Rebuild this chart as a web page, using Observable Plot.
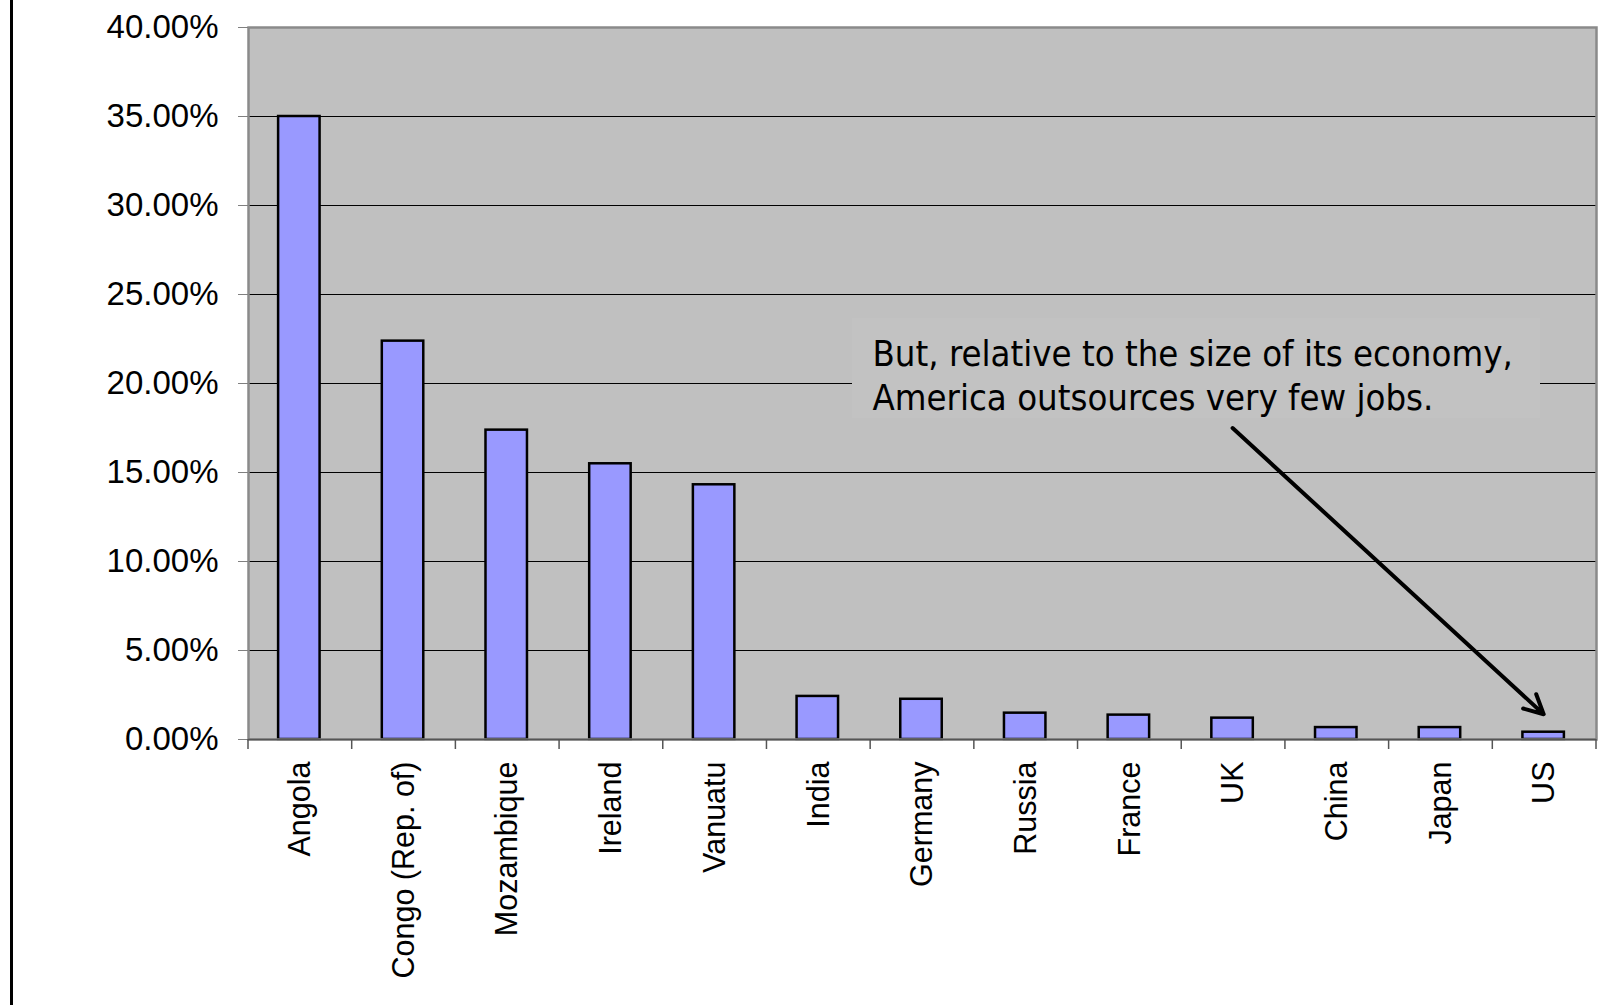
<!DOCTYPE html>
<html>
<head>
<meta charset="utf-8">
<script src="https://cdn.jsdelivr.net/npm/d3@7"></script>
<script src="https://cdn.jsdelivr.net/npm/@observablehq/plot@0.6"></script>
<style>
  html, body { margin: 0; padding: 0; background: #fff; }
  #wrap { position: relative; width: 1612px; height: 1005px; overflow: hidden; background: #fff; }
  #edge { position: absolute; left: 10px; top: 0; width: 3px; height: 1005px; background: #000; }
  #chart { position: absolute; left: 0; top: 0; }
</style>
</head>
<body>
<div id="wrap"><div id="edge"></div><div id="chart"></div></div>
<script>
// ---- data ----
const countries = ["Angola", "Congo (Rep. of)", "Mozambique", "Ireland", "Vanuatu", "India", "Germany", "Russia", "France", "UK", "China", "Japan", "US"];
const shares = [0.350, 0.2238, 0.1738, 0.1549, 0.1431, 0.0242, 0.0226, 0.0148, 0.0137, 0.0120, 0.0067, 0.0067, 0.0041];
const yTicks = [0, 0.05, 0.10, 0.15, 0.20, 0.25, 0.30, 0.35, 0.40];
const noteLines = ["But, relative to the size of its economy,", "America outsources very few jobs."];
const arrowFrom = ["UK", 0.175];
const arrowTo = ["US", 0.0142];

const data = countries.map((c, i) => ({country: c, share: shares[i]}));

const W = 1612, H = 1005;
const mL = 248, mR = 16, mT = 27, mB = 266;

// annotation box (relative to plot frame)
const noteBox = (index, scales, values, dims) => {
  const g = d3.create("svg:g");
  g.append("rect")
    .attr("x", dims.marginLeft + 604).attr("y", 318)
    .attr("width", 688).attr("height", 100)
    .attr("fill", "#c2c2c2");
  return g.node();
};

const plot = Plot.plot({
  width: W, height: H,
  marginLeft: mL, marginRight: mR, marginTop: mT, marginBottom: mB,
  style: {background: "transparent", fontFamily: "'Liberation Sans', Arial, sans-serif", color: "#000", overflow: "visible"},
  x: {domain: countries, paddingInner: 0.6, paddingOuter: 0.3, align: 0.5, round: false, label: null},
  y: {domain: [0, 0.4], label: null},
  marks: [
    Plot.frame({fill: "#c0c0c0", stroke: null}),
    Plot.gridY(yTicks, {stroke: "#000", strokeOpacity: 1, strokeWidth: 1}),
    noteBox,
    Plot.barY(data, {x: "country", y: "share", fill: "#9999ff", stroke: "#000", strokeWidth: 2.5, dx: -1}),
    Plot.frame({stroke: "#8a8a8a", strokeWidth: 2.5}),
    Plot.ruleY([0], {stroke: "#555", strokeWidth: 1.5}),
    Plot.axisY(yTicks, {tickFormat: d3.format(".2%"), tickSize: 10, tickPadding: 20, stroke: "#808080", fill: "#000", fontSize: 33, letterSpacing: 0.7, label: null}),
    Plot.axisX({tickSize: 0, tickPadding: 22, tickRotate: -90, fontSize: 30.5, fill: "#000", label: null}),
    Plot.text([noteLines.join("\n")], {
      frameAnchor: "top-left", dx: 624, dy: 307, textAnchor: "start", lineAnchor: "top",
      lineHeight: 1.215, fontSize: 36.2, fill: "#000",
      fontFamily: "'DejaVu Sans Condensed', 'DejaVu Sans', sans-serif", fontStretch: "condensed"
    }),
    Plot.arrow([{}], {
      x1: () => arrowFrom[0], y1: () => arrowFrom[1],
      x2: () => arrowTo[0], y2: () => arrowTo[1],
      stroke: "#000", strokeWidth: 4, headLength: 8, headAngle: 54, dx: -1
    })
  ]
});

document.getElementById("chart").appendChild(plot);

// category boundary tick marks (Excel-style, between categories)
const xs = plot.scale("x"), ys = plot.scale("y");
const half = (xs.step - xs.bandwidth) / 2;
const bounds = countries.map(c => xs.apply(c) - half).concat([xs.apply(countries[countries.length - 1]) + xs.bandwidth + half]);
const y0 = ys.apply(0);
d3.select(plot).append("g")
  .selectAll("line").data(bounds).join("line")
  .attr("x1", d => d).attr("x2", d => d)
  .attr("y1", y0).attr("y2", y0 + 10)
  .attr("stroke", "#555").attr("stroke-width", 1.5);
</script>
</body>
</html>
